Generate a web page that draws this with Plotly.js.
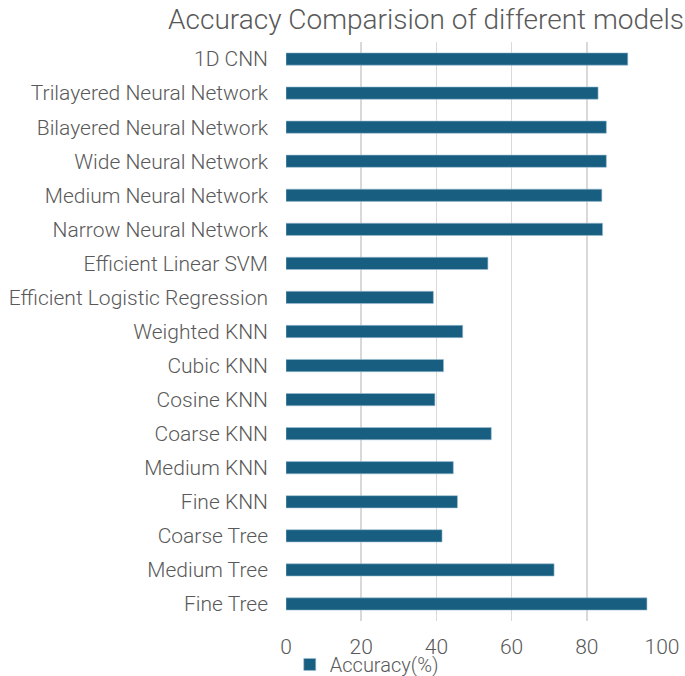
<!DOCTYPE html>
<html>
<head>
<meta charset="utf-8">
<script src="https://cdn.plot.ly/plotly-3.0.1.min.js"></script>
<style>html,body{margin:0;padding:0;background:#fff}#chart{width:685px;height:676px}</style>
</head>
<body>
<div id="chart"></div>
<script>
const models = [
  "Fine Tree", "Medium Tree", "Coarse Tree", "Fine KNN", "Medium KNN",
  "Coarse KNN", "Cosine KNN", "Cubic KNN", "Weighted KNN",
  "Efficient Logistic Regression", "Efficient Linear SVM",
  "Narrow Neural Network", "Medium Neural Network", "Wide Neural Network",
  "Bilayered Neural Network", "Trilayered Neural Network", "1D CNN"
];
const accuracy = [
  96.0, 71.3, 41.5, 45.6, 44.5,
  54.6, 39.6, 41.9, 47.0,
  39.2, 53.7,
  84.2, 84.0, 85.2,
  85.2, 83.0, 90.9
];
const xTicks = [0, 20, 40, 60, 80, 100];
const seriesName = "Accuracy(%)";
const chartTitle = "Accuracy Comparision of different models";

const FONT = "Roboto, Noto Sans, sans-serif";
const data = [{
  type: "bar",
  orientation: "h",
  x: accuracy,
  y: models,
  name: seriesName,
  width: 0.36,
  marker: {color: "#175e80", line: {color: "#9fc0d3", width: 0.6}},
  showlegend: true
}];
const layout = {
  width: 685, height: 676,
  margin: {l: 286, r: 23, t: 42, b: 55, autoexpand: false},
  paper_bgcolor: "#fff", plot_bgcolor: "#fff",
  font: {family: FONT, color: "#595959", size: 21, weight: 300},
  title: {
    text: chartTitle,
    font: {family: FONT, size: 28, color: "#595959", weight: 300},
    xref: "container", x: 0.622, xanchor: "center",
    yref: "container", y: 0.972, yanchor: "middle"
  },
  xaxis: {
    range: [0, 100],
    tickvals: xTicks,
    ticktext: xTicks.map(String),
    showgrid: true, gridcolor: "#d9d9d9", gridwidth: 1.5,
    zeroline: false, showline: false,
    ticks: "", ticklabelstandoff: 11,
    tickfont: {family: FONT, size: 21, color: "#595959", weight: 300},
    fixedrange: true, automargin: false
  },
  yaxis: {
    type: "category",
    categoryorder: "array", categoryarray: models,
    showgrid: false, zeroline: false, showline: false,
    ticks: "", ticklabelstandoff: 17,
    tickfont: {family: FONT, size: 21, color: "#595959", weight: 300},
    range: [-0.5, models.length - 0.5], automargin: false
  },
  showlegend: true,
  legend: {
    orientation: "h",
    x: 0.01, xanchor: "left",
    y: -0.075, yanchor: "middle",
    font: {family: FONT, size: 20, color: "#595959", weight: 300},
    bgcolor: "rgba(0,0,0,0)"
  },
  bargap: 0.6
};
Plotly.newPlot("chart", data, layout, {displayModeBar: false, staticPlot: true});
</script>
</body>
</html>
